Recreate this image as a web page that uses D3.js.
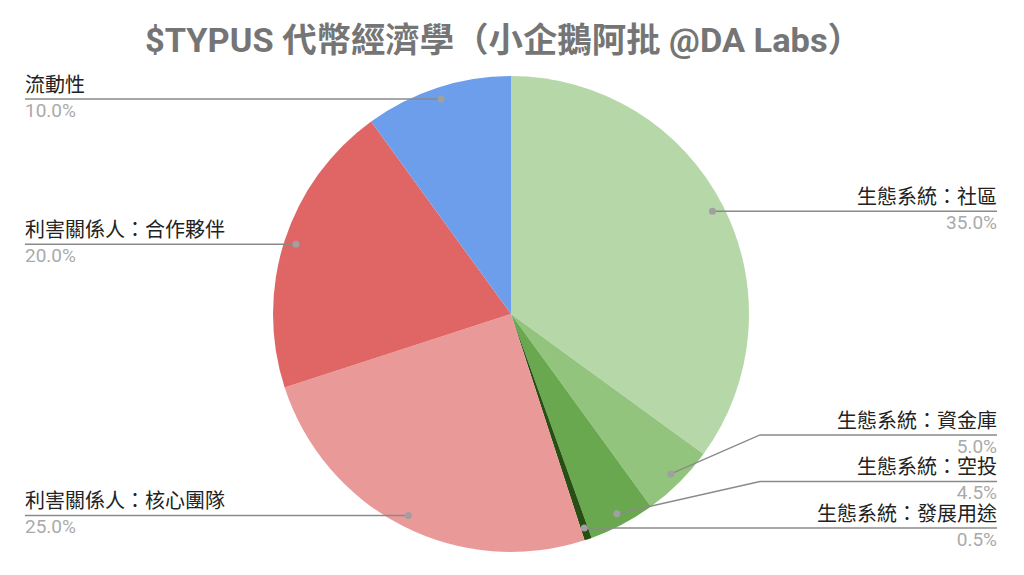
<!DOCTYPE html>
<html>
<head>
<meta charset="utf-8">
<script src="https://cdn.jsdelivr.net/npm/d3@7"></script>
<style>
  body { margin: 0; background: #fff; }
  text { font-family: Roboto, "Noto Sans CJK TC", sans-serif; }
</style>
</head>
<body>
<svg id="chart"></svg>
<script>
// Slice labels and shares (percent), clockwise from 12 o'clock
const categories = ['生態系統：社區', '生態系統：資金庫', '生態系統：空投', '生態系統：發展用途',
                    '利害關係人：核心團隊', '利害關係人：合作夥伴', '流動性'];
const shares = [35.0, 5.0, 4.5, 0.5, 25.0, 20.0, 10.0];
const sliceColors = ['#b6d7a8', '#93c47d', '#6aa84f', '#274e13', '#ea9999', '#e06666', '#6d9eeb'];
const chartTitle = '$TYPUS 代幣經濟學（小企鵝阿批 @DA Labs）';

const width = 1024, height = 575;
const cx = 511, cy = 314, radius = 238;

const svg = d3.select('#chart')
    .attr('width', width)
    .attr('height', height);

// Title
svg.append('text')
    .attr('x', 145)
    .attr('y', 52)
    .attr('textLength', 717)
    .attr('lengthAdjust', 'spacingAndGlyphs')
    .style('font-size', '34px')
    .style('font-weight', 'bold')
    .attr('fill', '#757575')
    .text(chartTitle);

const data = categories.map((c, i) => ({name: c, value: shares[i], color: sliceColors[i]}));

const pie = d3.pie().sort(null).value(d => d.value);
const arcs = pie(data);

const arc = d3.arc().innerRadius(0).outerRadius(radius);
// dots sit a bit inside the rim
const dotArc = d3.arc().innerRadius(radius * 0.95).outerRadius(radius * 0.95);

const g = svg.append('g').attr('transform', `translate(${cx},${cy})`);

g.selectAll('.slice')
    .data(arcs)
    .join('path')
    .attr('class', 'slice')
    .attr('d', arc)
    .attr('fill', d => d.data.color);

// Work out label rows; push right-side labels up from the bottom when they collide
const labels = arcs.map(a => {
    const [x, y] = dotArc.centroid(a);
    const mid = (a.startAngle + a.endAngle) / 2;
    return {a, dx: x + cx, dy: y + cy, right: mid < Math.PI, ly: y + cy};
});
const minGap = 46.5;
const rightSide = labels.filter(l => l.right).sort((p, q) => q.dy - p.dy);
let prev = Infinity;
rightSide.forEach(l => {
    l.ly = Math.min(l.dy, prev - minGap);
    prev = l.ly;
});
const leftSide = labels.filter(l => !l.right).sort((p, q) => p.dy - q.dy);
prev = -Infinity;
leftSide.forEach(l => {
    l.ly = Math.max(l.dy, prev + minGap);
    prev = l.ly;
});

const leftX = 25, rightX = 997;
const elbowOffset = radius + 11;

const lab = svg.append('g');
labels.forEach(l => {
    const endX = l.right ? rightX : leftX;
    let pts;
    if (Math.abs(l.ly - l.dy) < 0.5) {
        pts = [[l.dx, l.dy], [endX, l.ly]];
    } else {
        const ex = l.right ? cx + elbowOffset : cx - elbowOffset;
        pts = [[l.dx, l.dy], [ex, l.ly], [endX, l.ly]];
    }
    lab.append('path')
        .attr('d', d3.line()(pts))
        .attr('fill', 'none')
        .attr('stroke', '#8a8a8a')
        .attr('stroke-width', 1.5);
    lab.append('circle')
        .attr('cx', l.dx)
        .attr('cy', l.dy)
        .attr('r', 3.5)
        .attr('fill', '#a0a0a0');
    const anchor = l.right ? 'end' : 'start';
    lab.append('text')
        .attr('x', endX)
        .attr('y', l.ly - 7)
        .attr('text-anchor', anchor)
        .style('font-size', '20px')
        .attr('fill', '#222')
        .text(l.a.data.name);
    lab.append('text')
        .attr('x', endX)
        .attr('y', l.ly + 18)
        .attr('text-anchor', anchor)
        .style('font-size', '19px')
        .attr('fill', '#aaaaaa')
        .text(d3.format('.1f')(l.a.data.value) + '%');
});
</script>
</body>
</html>
